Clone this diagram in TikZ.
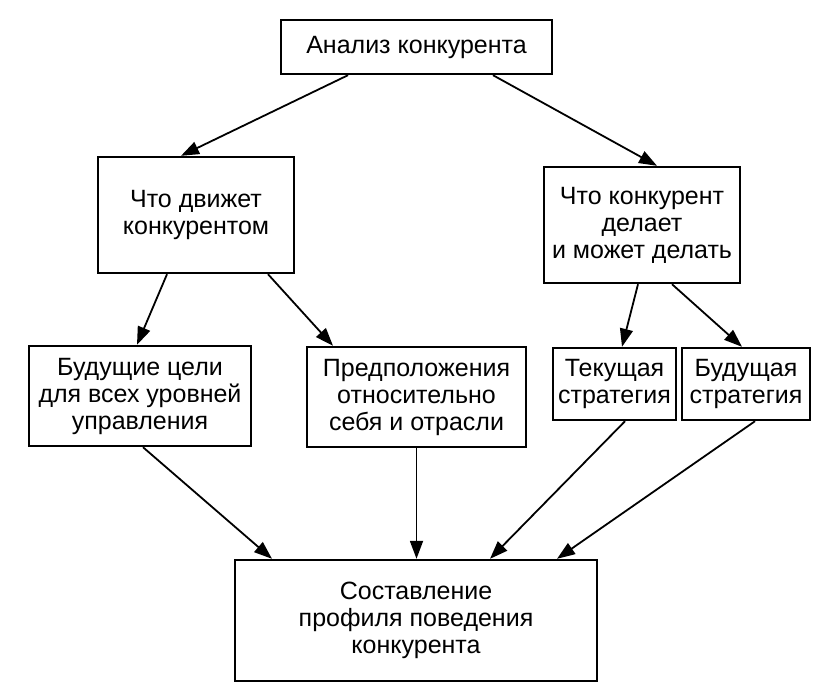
\documentclass[tikz,border=0pt]{standalone}
\usepackage{fontspec}
\setmainfont{Liberation Sans}
\usetikzlibrary{arrows.meta}

\begin{document}
\begin{tikzpicture}[x=1pt,y=-1pt,
	box/.style={draw,line width=2.4pt,inner sep=0pt,align=center,font=\fontsize{25}{27}\selectfont},
	arr/.style={line width=1.8pt,-{Triangle[length=18pt,width=13pt]}}]
	\useasboundingbox (0,0) rectangle (826,694);
	\node[box,minimum width=271pt,minimum height=54pt] (analiz) at (416.5,47) {Анализ конкурента};
	\node[box,minimum width=196pt,minimum height=116pt] (dvizhet) at (196,215) {Что движет\\конкурентом};
	\node[box,minimum width=196pt,minimum height=116pt] (delaet) at (642,225) {Что конкурент\\делает\\и может делать};
	\node[box,minimum width=222pt,minimum height=100pt] (celi) at (140,396) {Будущие цели\\для всех уровней\\управления};
	\node[box,minimum width=219pt,minimum height=100pt] (predp) at (416.5,397) {Предположения\\относительно\\себя и отрасли};
	\node[box,minimum width=123pt,minimum height=72pt] (tekstr) at (614.5,384) {Текущая\\стратегия};
	\node[box,minimum width=128pt,minimum height=72pt] (budstr) at (746,384) {Будущая\\стратегия};
	\node[box,minimum width=362pt,minimum height=121pt] (profil) at (416,620.5) {Составление\\профиля поведения\\конкурента};
	% arrows
	\draw[arr] ([xshift=-68.5pt]analiz.south) -- ([xshift=-15pt]dvizhet.north);
	\draw[arr] ([xshift=76.5pt]analiz.south) -- ([xshift=15pt]delaet.north);
	\draw[arr] ([xshift=-29pt]dvizhet.south) -- ([xshift=-3pt]celi.north);
	\draw[arr] ([xshift=72pt]dvizhet.south) -- ([xshift=-83.5pt]predp.north);
	\draw[arr] ([xshift=-4pt]delaet.south) -- ([xshift=7.5pt]tekstr.north);
	\draw[arr] ([xshift=30pt]delaet.south) -- ([xshift=-4pt]budstr.north);
	\draw[arr] ([xshift=3pt]celi.south) -- ([xshift=-144pt]profil.north);
	\draw[arr] (predp.south) -- (predp.south |- profil.north);
	\draw[arr] ([xshift=10.5pt]tekstr.south) -- ([xshift=74pt]profil.north);
	\draw[arr] ([xshift=9pt]budstr.south) -- ([xshift=141pt]profil.north);
\end{tikzpicture}
\end{document}
